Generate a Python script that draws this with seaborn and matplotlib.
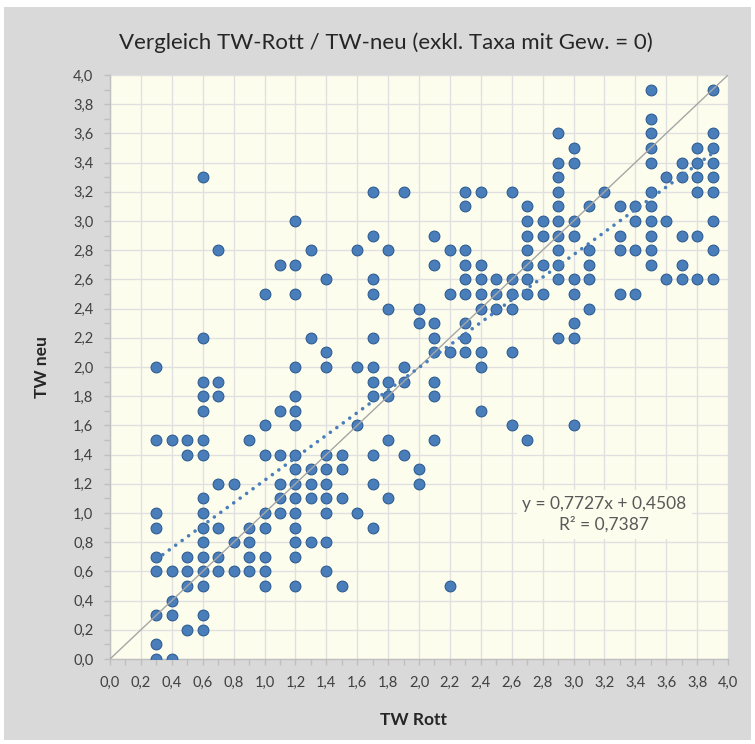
import numpy as np
import pandas as pd
import matplotlib
matplotlib.use("Agg")
import matplotlib.pyplot as plt
from matplotlib.ticker import MultipleLocator, FuncFormatter
from matplotlib.patches import Rectangle
import seaborn as sns

# TW neu levels (y) and the TW Rott values (x) found at each level
tw_neu_levels = [0.0, 0.1, 0.2, 0.3, 0.4, 0.5, 0.6, 0.7, 0.8, 0.9,
                 1.0, 1.1, 1.2, 1.3, 1.4, 1.5, 1.6, 1.7, 1.8, 1.9,
                 2.0, 2.1, 2.2, 2.3, 2.4, 2.5, 2.6, 2.7, 2.8, 2.9,
                 3.0, 3.1, 3.2, 3.3, 3.4, 3.5, 3.6, 3.7, 3.9]
tw_rott_at_level = [
    [0.3, 0.4],
    [0.3],
    [0.5, 0.6],
    [0.3, 0.4, 0.6],
    [0.4],
    [0.5, 0.6, 1.0, 1.2, 1.5, 2.2],
    [0.3, 0.4, 0.5, 0.6, 0.7, 0.8, 0.9, 1.0, 1.4],
    [0.3, 0.5, 0.6, 0.7, 0.9, 1.0, 1.2],
    [0.6, 0.8, 0.9, 1.2, 1.3, 1.4],
    [0.3, 0.6, 0.7, 0.9, 1.0, 1.2, 1.7],
    [0.3, 0.6, 1.0, 1.1, 1.2, 1.4, 1.6],
    [0.6, 1.1, 1.2, 1.3, 1.4, 1.5, 1.8],
    [0.7, 0.8, 1.1, 1.2, 1.3, 1.4, 1.7, 2.0],
    [1.2, 1.3, 1.4, 1.5, 2.0],
    [0.5, 0.6, 1.0, 1.1, 1.2, 1.4, 1.5, 1.7, 1.9],
    [0.3, 0.4, 0.5, 0.6, 0.9, 1.8, 2.1, 2.7],
    [1.0, 1.2, 1.6, 2.6, 3.0],
    [0.6, 1.1, 1.2, 2.4],
    [0.6, 0.7, 1.2, 1.7, 1.8, 2.1],
    [0.6, 0.7, 1.7, 1.8, 1.9, 2.1],
    [0.3, 1.2, 1.4, 1.6, 1.7, 1.9, 2.4],
    [1.4, 2.1, 2.2, 2.3, 2.4, 2.6],
    [0.6, 1.3, 1.7, 2.1, 2.3, 2.9, 3.0],
    [2.0, 2.1, 2.3, 3.0],
    [1.8, 2.0, 2.4, 2.5, 2.6, 3.1],
    [1.0, 1.2, 1.7, 2.2, 2.3, 2.4, 2.5, 2.6, 2.7, 2.8, 3.0, 3.3, 3.4],
    [1.4, 1.7, 2.3, 2.4, 2.5, 2.6, 2.7, 2.9, 3.0, 3.1, 3.6, 3.7, 3.8, 3.9],
    [1.1, 1.2, 2.1, 2.3, 2.4, 2.7, 2.8, 2.9, 3.1, 3.5, 3.7],
    [0.7, 1.3, 1.6, 1.8, 2.2, 2.3, 2.7, 2.9, 3.1, 3.3, 3.4, 3.5, 3.9],
    [1.7, 2.1, 2.7, 2.8, 2.9, 3.0, 3.3, 3.5, 3.7, 3.8],
    [1.2, 2.7, 2.8, 2.9, 3.0, 3.4, 3.5, 3.6, 3.9],
    [2.3, 2.7, 2.9, 3.1, 3.3, 3.4, 3.5],
    [1.7, 1.9, 2.3, 2.4, 2.6, 2.9, 3.2, 3.5, 3.8, 3.9],
    [0.6, 2.9, 3.6, 3.7, 3.8, 3.9],
    [2.9, 3.0, 3.5, 3.7, 3.8, 3.9],
    [3.0, 3.5, 3.8, 3.9],
    [2.9, 3.5, 3.9],
    [3.5],
    [3.5, 3.9],
]

# trend line as printed on the chart
slope = 0.7727
intercept = 0.4508
r_squared = 0.7387

rott, neu = [], []
for level, xs in zip(tw_neu_levels, tw_rott_at_level):
    rott.extend(xs)
    neu.extend([level] * len(xs))
df = pd.DataFrame({"TW Rott": rott, "TW neu": neu})

sns.set_theme(style="white")
plt.rcParams["font.family"] = ["Lato", "DejaVu Sans"]

plot_bg = "#fdfdee"
dot_color = "#4a7ebb"

fig = plt.figure(figsize=(7.55, 7.44), dpi=100, facecolor="white")
fig.patches.append(Rectangle((4 / 755, 4 / 744), 747 / 755, 733 / 744,
                             transform=fig.transFigure, facecolor="#d9d9d9",
                             edgecolor="none", zorder=-10))
ax = fig.add_axes([110 / 755, 1 - 659 / 744, 618 / 755, 584 / 744])
ax.set_facecolor(plot_bg)

sns.scatterplot(data=df, x="TW Rott", y="TW neu", ax=ax, s=60,
                color=dot_color, edgecolor="#2f5d92", linewidth=0.8, zorder=3)

# diagonal y = x
ax.plot([0, 4], [0, 4], color="#a6a6a6", lw=1, zorder=4)
# linear trend line
xs = np.array([df["TW Rott"].min(), df["TW Rott"].max()])
ax.plot(xs, slope * xs + intercept, color=dot_color, lw=2.6,
        ls=(0, (0.01, 2.2)), dash_capstyle="round", zorder=4)

fmt = lambda v, _: f"{v:.1f}".replace(".", ",")
ax.set_xlim(0, 4)
ax.set_ylim(0, 4)
for axis in (ax.xaxis, ax.yaxis):
    axis.set_major_locator(MultipleLocator(0.2))
    axis.set_minor_locator(MultipleLocator(0.1))
    axis.set_major_formatter(FuncFormatter(fmt))
ax.grid(True, which="major", color="#e0e0e0", lw=1, zorder=0)
ax.set_axisbelow(True)

for side in ("top", "right"):
    ax.spines[side].set_visible(False)
for side in ("left", "bottom"):
    ax.spines[side].set_color("#bfbfbf")
    ax.spines[side].set_linewidth(1)

ax.tick_params(which="both", bottom=True, left=True, direction="out",
               length=4, width=1, color="#bfbfbf")
ax.tick_params(which="major", labelsize=10.5, labelcolor="#404040", pad=8)
ax.set_xlabel("")
ax.set_ylabel("")

eq = f"y = {slope:.4f}x + {intercept:.4f}\nR² = {r_squared:.4f}".replace(".", ",")
ax.text(3.2, 0.99, eq, ha="center", va="center", fontsize=12.5,
        color="#595959", linespacing=1.35, zorder=5,
        bbox=dict(facecolor=plot_bg, edgecolor="none", pad=4))

fig.text(386 / 755, 1 - 43 / 744,
         "Vergleich TW-Rott / TW-neu (exkl. Taxa mit Gew. = 0)",
         ha="center", va="center", fontsize=16, color="#262626")
fig.text(414 / 755, 1 - 720 / 744, "TW Rott", ha="center", va="center",
         fontsize=12.5, fontweight="bold", color="#262626")
fig.text(42 / 755, 1 - 367 / 744, "TW neu", ha="center", va="center",
         rotation=90, fontsize=12.5, fontweight="bold", color="#262626")

fig.savefig("out.png", dpi=100, facecolor=fig.get_facecolor())
